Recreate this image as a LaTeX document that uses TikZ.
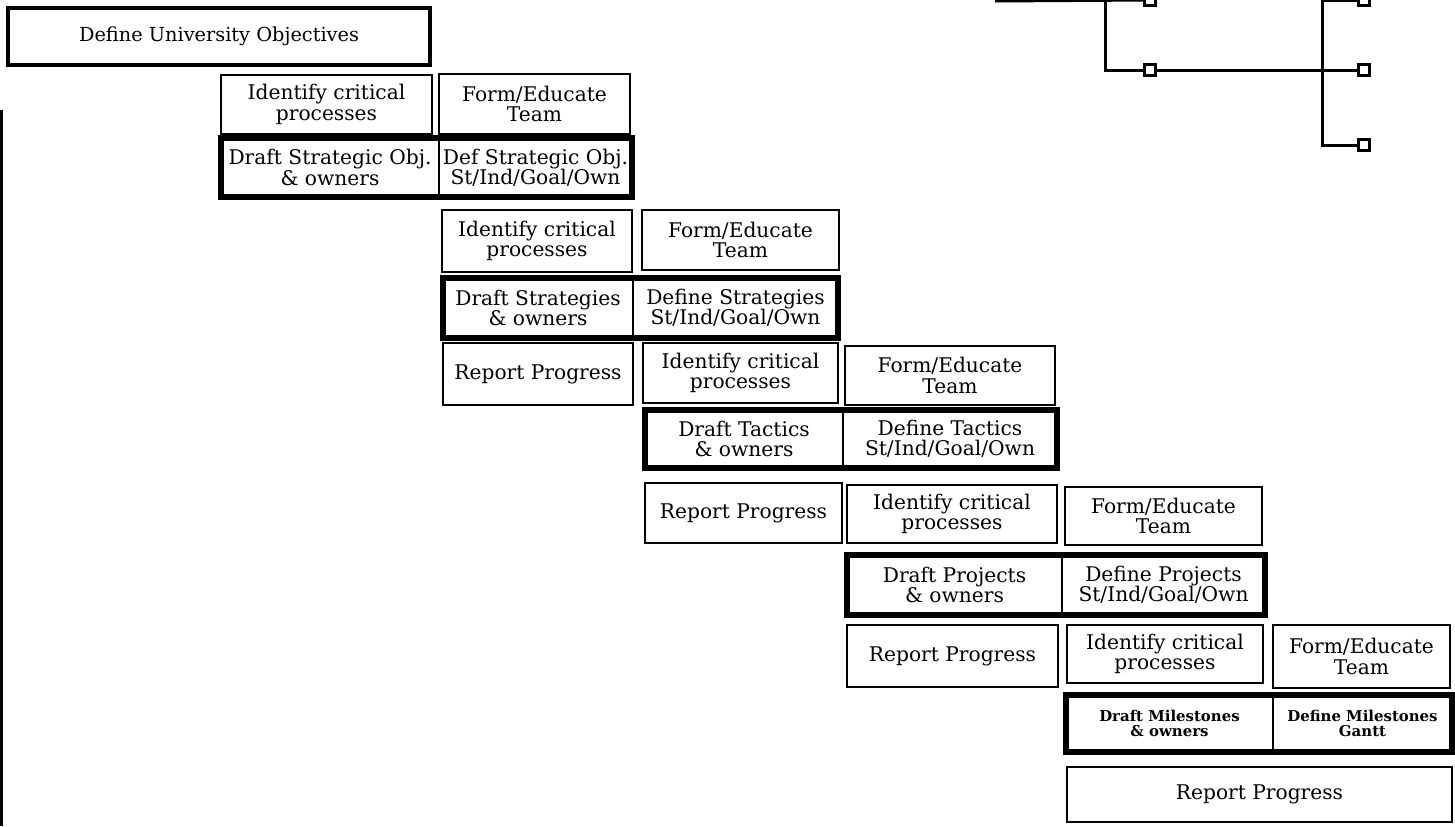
\documentclass[tikz,border=0pt]{standalone}
\usepackage{fontspec}
\setmainfont{DejaVu Serif}
\usepackage{tikz}
\usetikzlibrary{positioning}
\tikzset{
  box/.style={rectangle, draw, line width=1.6pt, inner sep=0pt, outer sep=0pt, anchor=north west, align=center, font=\fontsize{11.5}{11.5}\selectfont},
  wd/.style={minimum width=#1*0.02cm},
  ht/.style={minimum height=#1*0.02cm},
  pairline/.style={line width=3.4pt},
  small/.style={font=\fontsize{8.5}{9}\selectfont\bfseries},
  term/.style={rectangle, draw, line width=1.5pt, inner sep=0pt, minimum size=0.22cm},
  wire/.style={line width=1.7pt},
}

\begin{document}
\begin{tikzpicture}[x=0.02cm, y=-0.02cm]
    \useasboundingbox (0,0) rectangle (1455,826);
    % scan edge
    \draw[line width=2pt] (1.5,110) -- (1.5,826);
    % top objective
    \node[box, line width=2.8pt, wd=422, ht=57, font=\fontsize{11}{12}\selectfont] (obj) at (8,8) {Define University Objectives};
    % strategic objectives
    \node[box, wd=211, ht=59] (id1) at (221,75) {Identify critical\\processes};
    \node[box, wd=191, ht=60] (fm1) at (439,74) {Form/Educate\\Team};
    \node[box, wd=218, ht=59] (dr1) at (221,138) {Draft Strategic Obj.\\\& owners};
    \node[box, wd=193, ht=59] (df1) at (439,138) {Def Strategic Obj.\\St/Ind/Goal/Own};
    \draw[pairline] (dr1.north west) rectangle (df1.south east);
    % strategies
    \node[box, wd=190, ht=62] (id2) at (442,210) {Identify critical\\processes};
    \node[box, wd=197, ht=60] (fm2) at (642,210) {Form/Educate\\Team};
    \node[box, wd=190, ht=60] (dr2) at (443,278) {Draft Strategies\\\& owners};
    \node[box, wd=205, ht=60] (df2) at (633,278) {Define Strategies\\St/Ind/Goal/Own};
    \draw[pairline] (dr2.north west) rectangle (df2.south east);
    \node[box, wd=190, ht=62] (rp2) at (443,343) {Report Progress};
    % tactics
    \node[box, wd=195, ht=60] (id3) at (643,343) {Identify critical\\processes};
    \node[box, wd=210, ht=59] (fm3) at (845,346) {Form/Educate\\Team};
    \node[box, wd=198, ht=58] (dr3) at (645,410) {Draft Tactics\\\& owners};
    \node[box, wd=214, ht=58] (df3) at (843,410) {Define Tactics\\St/Ind/Goal/Own};
    \draw[pairline] (dr3.north west) rectangle (df3.south east);
    \node[box, wd=197, ht=60] (rp3) at (645,483) {Report Progress};
    % projects
    \node[box, wd=210, ht=58] (id4) at (847,485) {Identify critical\\processes};
    \node[box, wd=197, ht=58] (fm4) at (1065,487) {Form/Educate\\Team};
    \node[box, wd=215, ht=60] (dr4) at (847,555) {Draft Projects\\\& owners};
    \node[box, wd=203, ht=60] (df4) at (1062,555) {Define Projects\\St/Ind/Goal/Own};
    \draw[pairline] (dr4.north west) rectangle (df4.south east);
    \node[box, wd=211, ht=62] (rp4) at (847,625) {Report Progress};
    % milestones
    \node[box, wd=196, ht=58] (id5) at (1067,625) {Identify critical\\processes};
    \node[box, wd=177, ht=63] (fm5) at (1273,625) {Form/Educate\\Team};
    \node[box, small, wd=207, ht=57] (dr5) at (1066,695) {Draft Milestones\\\& owners};
    \node[box, small, wd=179, ht=57] (df5) at (1273,695) {Define Milestones\\Gantt};
    \draw[pairline] (dr5.north west) rectangle (df5.south east);
    \node[box, wd=385, ht=55] (rp5) at (1067,767) {Report Progress};
    % cut-off chart, top right
    \node[term] (s1) at (1150,0) {};
    \node[term] (s2) at (1150,70) {};
    \node[term] (s3) at (1364,70) {};
    \node[term] (s4) at (1364,145) {};
    \node[term] (s5) at (1364,0) {};
    \coordinate (k0) at (995,1);
    \coordinate (k1) at (1105,0);
    \coordinate (k2) at (1322,0);
    \draw[wire] (k0) -- (s1);
    \draw[wire] (k1) |- (s2);
    \draw[wire] (s2) -- (s3);
    \draw[wire] (k2) |- (s4);
    \draw[wire] (k2) -- (s5);
  \end{tikzpicture}
\end{document}
